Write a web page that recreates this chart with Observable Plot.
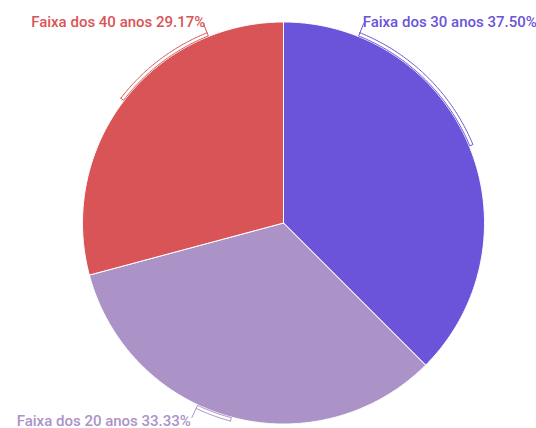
<!DOCTYPE html>
<html>
<head>
<meta charset="utf-8">
<script src="https://cdn.jsdelivr.net/npm/d3@7"></script>
<script src="https://cdn.jsdelivr.net/npm/@observablehq/plot@0.6"></script>
<style>
  html, body { margin: 0; padding: 0; background: #fff; }
  #chart svg { display: block; }
</style>
</head>
<body>
<div id="chart"></div>
<script>
// ---- data ----
const categories = ["Faixa dos 30 anos", "Faixa dos 20 anos", "Faixa dos 40 anos"];
const values = [37.50, 33.33, 29.17];
const colors = ["#6b54d9", "#ab93c8", "#d95456"];

// ---- layout ----
const W = 536, H = 428;
const cx = 283, cy = 222.5, R = 201;          // pixel centre / radius
const toRad = Math.PI / 180;

const pie = d3.pie().sort(null).value(d => d.value)(
  categories.map((c, i) => ({category: c, value: values[i], color: colors[i]}))
);

// unit coordinates: angle clockwise from 12 o'clock
const pt = (a, r) => ({x: r * Math.sin(a), y: r * Math.cos(a)});

const slicePts = [];
for (const s of pie) {
  const steps = Math.max(2, Math.ceil((s.endAngle - s.startAngle) / (0.5 * toRad)));
  slicePts.push({category: s.data.category, ...pt(0, 0)});
  for (let k = 0; k <= steps; k++) {
    const a = s.startAngle + (s.endAngle - s.startAngle) * k / steps;
    slicePts.push({category: s.data.category, ...pt(a, 1)});
  }
  slicePts.push({category: s.data.category, ...pt(0, 0)});
}

// label layout: leader end constrained to top / bottom row
const rIn = (R + 0.6) / R, rOut = (R + 4) / R, rLead0 = rOut, rLead1 = (R + 14) / R;
const topRow = (cy - 23) / R, bottomRow = -(417 - cy) / R;
const bracketPts = [], leaderPts = [], labels = [];
for (const s of pie) {
  const mid = (s.startAngle + s.endAngle) / 2;
  const isTop = Math.cos(mid) > -0.2 && !(mid > Math.PI * 0.9 && mid < Math.PI * 1.3);
  const right = Math.sin(mid) >= 0;
  const a = Math.acos((isTop ? topRow : bottomRow) / rLead1);
  const lead = right ? a : 2 * Math.PI - a;
  const a0 = Math.min(mid, lead), a1 = Math.max(mid, lead);
  const steps = Math.max(2, Math.ceil((a1 - a0) / (0.5 * toRad)));
  const cat = s.data.category;
  for (let k = 0; k <= steps; k++) {
    const t = a0 + (a1 - a0) * k / steps;
    bracketPts.push({category: cat, ...pt(t, rOut)});
  }
  for (let k = steps; k >= 0; k--) {
    const t = a0 + (a1 - a0) * k / steps;
    bracketPts.push({category: cat, ...pt(t, rIn)});
  }
  bracketPts.push({category: cat, ...pt(a0, rOut)});
  leaderPts.push({category: cat, ...pt(lead, rLead0)});
  leaderPts.push({category: cat, ...pt(lead, rLead1)});
  const e = pt(lead, rLead1);
  labels.push({
    category: cat,
    text: `${cat} ${s.data.value.toFixed(2)}%`,
    x: e.x, y: e.y,
    anchor: Math.sin(lead) >= 0 ? "start" : "end",
    top: isTop
  });
}

const textOpts = {x: "x", y: "y", text: "text", fill: "category", lineAnchor: "bottom"};

const plot = Plot.plot({
  width: W,
  height: H,
  margin: 0,
  x: {domain: [-cx / R, (W - cx) / R], axis: null},
  y: {domain: [(cy - H) / R, cy / R], axis: null},
  color: {domain: categories, range: colors},
  style: {fontFamily: "Roboto, sans-serif", fontSize: "15px", fontWeight: 500, background: "#fff"},
  marks: [
    Plot.line(slicePts, {x: "x", y: "y", z: "category", fill: "category", stroke: "#fff", strokeWidth: 1}),
    Plot.line(bracketPts, {x: "x", y: "y", z: "category", stroke: "category", fill: "#fff", strokeWidth: 1}),
    Plot.line(leaderPts, {x: "x", y: "y", z: "category", stroke: "category", strokeWidth: 1}),
    Plot.text(labels.filter(d => d.top && d.anchor === "start"), {...textOpts, textAnchor: "start", dx: -1, dy: 3}),
    Plot.text(labels.filter(d => d.top && d.anchor === "end"), {...textOpts, textAnchor: "end", dx: 2, dy: 3}),
    Plot.text(labels.filter(d => !d.top && d.anchor === "start"), {...textOpts, textAnchor: "start", dy: 8}),
    Plot.text(labels.filter(d => !d.top && d.anchor === "end"), {...textOpts, textAnchor: "end", dx: -1, dy: 8})
  ]
});
document.getElementById("chart").appendChild(plot);
</script>
</body>
</html>
